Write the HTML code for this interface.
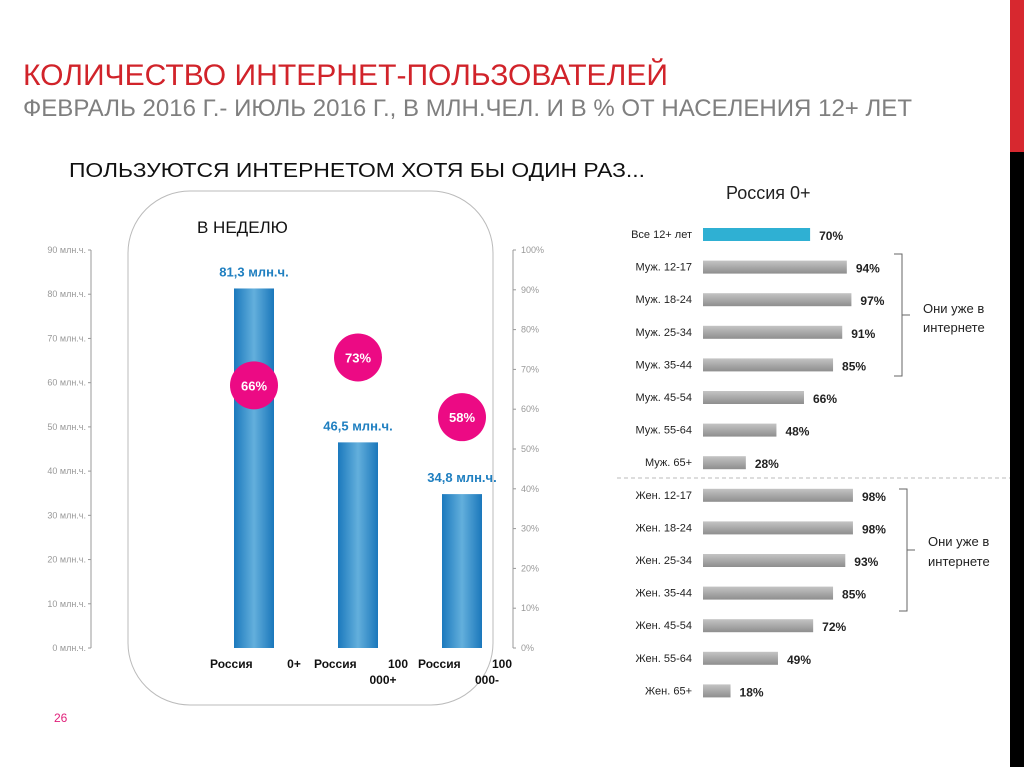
<!DOCTYPE html>
<html><head><meta charset="utf-8"><style>
html,body{margin:0;padding:0;background:#fff;}
svg{display:block;font-family:"Liberation Sans","DejaVu Sans",sans-serif;}
</style></head><body>
<svg id="chart" width="1024" height="767" viewBox="0 0 1024 767">
<defs>
<linearGradient id="barg" x1="0" x2="1" y1="0" y2="0">
<stop offset="0" stop-color="#1b79bd"/><stop offset="0.5" stop-color="#63afdc"/><stop offset="1" stop-color="#1a77bb"/>
</linearGradient>
<linearGradient id="grayg" x1="0" x2="0" y1="0" y2="1">
<stop offset="0" stop-color="#c4c4c4"/><stop offset="0.5" stop-color="#a9a9a9"/><stop offset="1" stop-color="#8e8e8e"/>
</linearGradient>
</defs>
<rect x="1010" y="0" width="14" height="152" fill="#d7282f"/>
<rect x="1010" y="152" width="14" height="615" fill="#000"/>
<text x="23" y="85" font-size="30" fill="#d1232a" textLength="645" lengthAdjust="spacingAndGlyphs">КОЛИЧЕСТВО ИНТЕРНЕТ-ПОЛЬЗОВАТЕЛЕЙ</text>
<text x="23" y="116" font-size="24" fill="#7f7f7f" textLength="889" lengthAdjust="spacingAndGlyphs">ФЕВРАЛЬ 2016 Г.- ИЮЛЬ 2016 Г., В МЛН.ЧЕЛ. И В % ОТ НАСЕЛЕНИЯ 12+ ЛЕТ</text>
<text x="69" y="177" font-size="20" fill="#111" textLength="576" lengthAdjust="spacingAndGlyphs">ПОЛЬЗУЮТСЯ ИНТЕРНЕТОМ ХОТЯ БЫ ОДИН РАЗ...</text>
<rect x="128" y="191" width="365" height="514" rx="62" ry="62" fill="none" stroke="#bbb" stroke-width="1"/>
<text x="197" y="233" font-size="17" fill="#111">В НЕДЕЛЮ</text>
<text x="726" y="199" font-size="18" fill="#222">Россия 0+</text>
<text x="54" y="722" font-size="12" fill="#e0207a">26</text>
<g id="left"></g>
<g id="right"></g>
</svg>
<script>
const NS='http://www.w3.org/2000/svg';
const leftCats=['Россия 0+','Россия 100 000+','Россия 100 000-'];
const usersMln=[81.3,46.5,34.8];
const valueLabels=['81,3 млн.ч.','46,5 млн.ч.','34,8 млн.ч.'];
const sharePct=[66,73,58];
const leftTicks=[0,10,20,30,40,50,60,70,80,90];
const rightTicks=[0,10,20,30,40,50,60,70,80,90,100];
const groups=['Все 12+ лет','Муж. 12-17','Муж. 18-24','Муж. 25-34','Муж. 35-44','Муж. 45-54','Муж. 55-64','Муж. 65+','Жен. 12-17','Жен. 18-24','Жен. 25-34','Жен. 35-44','Жен. 45-54','Жен. 55-64','Жен. 65+'];
const groupPct=[70,94,97,91,85,66,48,28,98,98,93,85,72,49,18];

function mk(tag,attrs,parent,txt){const e=document.createElementNS(NS,tag);for(const k in attrs)e.setAttribute(k,attrs[k]);if(txt!==undefined)e.textContent=txt;parent.appendChild(e);return e;}
const L=document.getElementById('left'),R=document.getElementById('right');
const y0=648,y1=250;
const yL=v=>y0-(v/90)*(y0-y1);
const yR=v=>y0-(v/100)*(y0-y1);
// left axis
let ax=mk('line',{x1:91,x2:91,y1:y1,y2:y0,stroke:'#999'},L);

leftTicks.forEach(t=>{
 let l=mk('line',{x1:88,x2:91,y1:yL(t),y2:yL(t),stroke:'#999'},L);
 
 let tx=mk('text',{x:86,y:yL(t)+3,'font-size':9,fill:'#999','text-anchor':'end'},L,t+' млн.ч.');
 
});
let ax2=mk('line',{x1:513,x2:513,y1:y1,y2:y0,stroke:'#999'},L);

rightTicks.forEach(t=>{
 let l=mk('line',{x1:513,x2:516,y1:yR(t),y2:yR(t),stroke:'#999'},L);
 
 let tx=mk('text',{x:521,y:yR(t)+3,'font-size':9,fill:'#999'},L,t+'%');
 
});
const bx=i=>234+i*104, bw=40;
usersMln.forEach((v,i)=>{
 let b=mk('rect',{x:bx(i),y:yL(v),width:bw,height:y0-yL(v),fill:'url(#barg)'},L);
 
 let t=mk('text',{x:bx(i)+bw/2,y:yL(v)-12,'font-size':13,'font-weight':'bold',fill:'#1f7fc0','text-anchor':'middle'},L,valueLabels[i]);
 
 let c=mk('circle',{cx:bx(i)+bw/2,cy:yR(sharePct[i]),r:24,fill:'#ec0a84'},L);
 
 let ct=mk('text',{x:bx(i)+bw/2,y:yR(sharePct[i])+5,'font-size':13,'font-weight':'bold',fill:'#fff','text-anchor':'middle'},L,sharePct[i]+'%');
 
 const parts=leftCats[i].split(' ');
 let a=mk('text',{x:bx(i)-24,y:668,'font-size':12,'font-weight':'bold',fill:'#111'},L,parts[0]);
 
 let b2=mk('text',{x:bx(i)+bw+20,y:668,'font-size':12,'font-weight':'bold',fill:'#111','text-anchor':'middle'},L,parts[1]);
 
 if(parts[2]){let c2=mk('text',{x:bx(i)+bw+5,y:684,'font-size':12,'font-weight':'bold',fill:'#111','text-anchor':'middle'},L,parts[2]);
 }
});
// right chart
const rx0=703, pxPer=1.53;
const ry=i=>234+i*32.6;
groups.forEach((g,i)=>{
 let t=mk('text',{x:692,y:ry(i)+4,'font-size':11,fill:'#222','text-anchor':'end'},R,g);
 
 let b=mk('rect',{x:rx0,y:ry(i)-6,width:groupPct[i]*pxPer,height:13,fill:i===0?'#2fb0d3':'url(#grayg)'},R);
 
 let v=mk('text',{x:rx0+groupPct[i]*pxPer+9,y:ry(i)+6,'font-size':12,'font-weight':'bold',fill:'#222'},R,groupPct[i]+'%');
 
});
let d=mk('line',{x1:617,x2:1010,y1:478,y2:478,stroke:'#bbb','stroke-dasharray':'4 3'},R);

function bracket(x,ya,yb,tx,ty1,ty2){
 let p=mk('path',{d:`M${x-8} ${ya} H${x} V${yb} H${x-8} M${x} ${(ya+yb)/2} H${x+8}`,fill:'none',stroke:'#666'},R);
 
 let a=mk('text',{x:tx,y:ty1,'font-size':13,fill:'#222'},R,'Они уже в');
 
 let b=mk('text',{x:tx,y:ty2,'font-size':13,fill:'#222'},R,'интернете');
 
}
bracket(902,254,376,923,313,332);
bracket(907,489,611,928,546,566);
</script>
</body></html>
